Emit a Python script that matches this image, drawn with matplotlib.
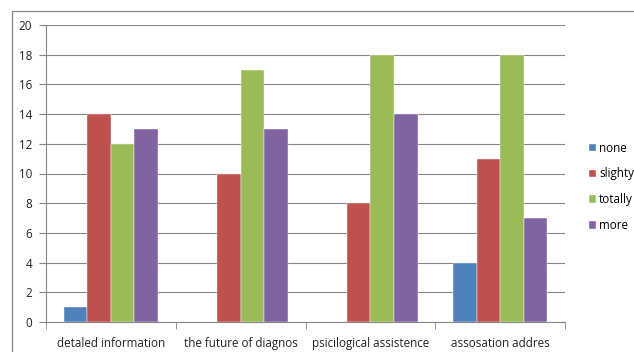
import numpy as np
import matplotlib.pyplot as plt
from matplotlib.patches import Rectangle

categories = ["detaled information", "the future of diagnos", "psicilogical assistence", "assosation addres"]
series_names = ["none", "slighty", "totally", "more"]
none_vals = [1, 0, 0, 4]
slighty_vals = [14, 10, 8, 11]
totally_vals = [12, 17, 18, 18]
more_vals = [13, 13, 14, 7]
y_ticks = [0, 2, 4, 6, 8, 10, 12, 14, 16, 18, 20]

colors = ["#4F81BD", "#C0504D", "#9BBB59", "#8064A2"]
W, H = 634, 352

plt.rcParams['font.family'] = ['Open Sans', 'DejaVu Sans']
fig = plt.figure(figsize=(W / 100, H / 100), dpi=100)

# outer chart border
fig.patches.append(Rectangle((12 / W, -0.05), 1.1, (H - 11) / H + 0.05,
                             transform=fig.transFigure, fill=False,
                             edgecolor="#868686", linewidth=0.9))

ax = fig.add_axes([46 / W, (H - 322) / H, (565 - 46) / W, (322 - 25) / H])

x = np.arange(len(categories))
bw = 1 / 5.5
data = [none_vals, slighty_vals, totally_vals, more_vals]
for i, (name, vals) in enumerate(zip(series_names, data)):
    ax.bar(x + (i - 1.5) * bw, vals, bw, color=colors[i], label=name,
           edgecolor="white", linewidth=0.3, zorder=3)

ax.set_xlim(-0.5, len(categories) - 0.5)
ax.set_ylim(0, 20)
ax.set_yticks(y_ticks)
ax.yaxis.grid(True, color="#868686", linewidth=0.8, zorder=0)
ax.set_xticks(x)
ax.set_xticklabels(categories, fontsize=8.4, color="#222222")
ax.set_xticks(np.arange(len(categories) + 1) - 0.5, minor=True)
ax.tick_params(axis="x", which="major", length=0, pad=11)
ax.tick_params(axis="x", which="minor", length=5, color="#868686", direction="out")
ax.tick_params(axis="y", length=5, color="#868686", labelsize=8.4, labelcolor="#222222", pad=5)

for s in ["top", "right"]:
    ax.spines[s].set_visible(False)
for s in ["left", "bottom"]:
    ax.spines[s].set_color("#868686")
    ax.spines[s].set_linewidth(0.8)

fig.legend(loc="upper left", bbox_to_anchor=(578 / W, (H - 131) / H),
           frameon=False, fontsize=8.4, handlelength=0.6, handleheight=0.6,
           handletextpad=0.3, labelspacing=1.1)

fig.savefig("out.png", dpi=100)
